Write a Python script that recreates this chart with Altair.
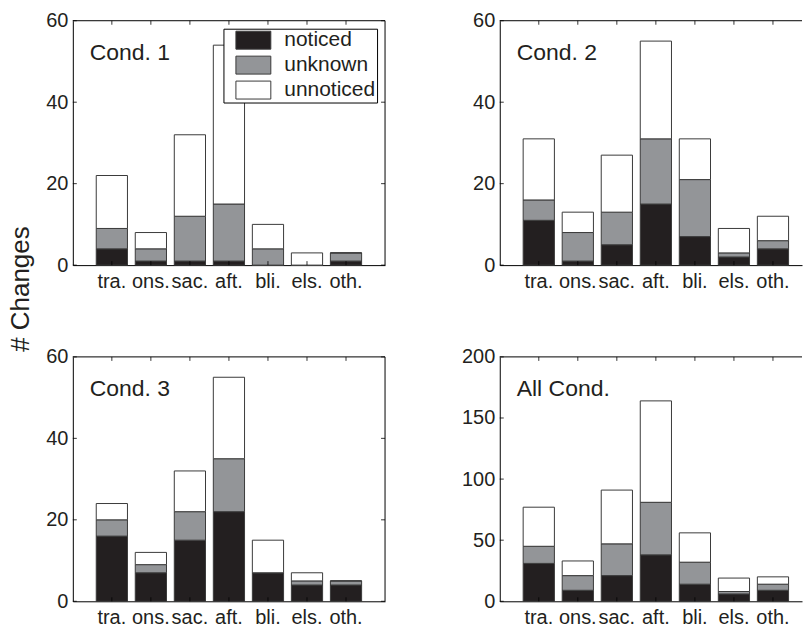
import altair as alt
import pandas as pd

categories = ["tra.", "ons.", "sac.", "aft.", "bli.", "els.", "oth."]
statuses = ["noticed", "unknown", "unnoticed"]
panel_names = ["Cond. 1", "Cond. 2", "Cond. 3", "All Cond."]

cond1_noticed = [4, 1, 1, 1, 0, 0, 1]
cond1_unknown = [5, 3, 11, 14, 4, 0, 2]
cond1_unnoticed = [13, 4, 20, 39, 6, 3, 0]

cond2_noticed = [11, 1, 5, 15, 7, 2, 4]
cond2_unknown = [5, 7, 8, 16, 14, 1, 2]
cond2_unnoticed = [15, 5, 14, 24, 10, 6, 6]

cond3_noticed = [16, 7, 15, 22, 7, 4, 4]
cond3_unknown = [4, 2, 7, 13, 0, 1, 1]
cond3_unnoticed = [4, 3, 10, 20, 8, 2, 0]

all_noticed = [31, 9, 21, 38, 14, 6, 9]
all_unknown = [14, 12, 26, 43, 18, 2, 5]
all_unnoticed = [32, 12, 44, 83, 24, 11, 6]

yticks_cond = [0, 20, 40, 60]
yticks_all = [0, 50, 100, 150, 200]

FONT = "Liberation Sans"
TXT = "#231f20"
COLORS = ["#231f20", "#939598", "#ffffff"]
H = 245


def make_df(series):
    rows = []
    for k, (st, vals) in enumerate(zip(statuses, series)):
        for c, v in zip(categories, vals):
            rows.append({"cat": c, "status": st, "value": v, "k": k})
    return pd.DataFrame(rows)


def panel(name, series, yticks, width, pad_outer, align, right_border, legend):
    df = make_df(series)
    xscale = alt.Scale(domain=categories, paddingInner=0.2,
                       paddingOuter=pad_outer, align=align)
    yscale = alt.Scale(domain=[yticks[0], yticks[-1]], nice=False, zero=True)
    xenc = alt.X("cat:N", scale=xscale, sort=categories,
                 axis=alt.Axis(title=None, labelAngle=0, ticks=False,
                               domainColor="black", labelFontSize=20,
                               labelPadding=6, labelColor=TXT, labelFont=FONT))
    bars = alt.Chart(df).mark_bar(stroke="#3a3a3a", strokeWidth=1).encode(
        x=xenc,
        y=alt.Y("value:Q", stack="zero", scale=yscale,
                axis=alt.Axis(values=yticks, title=None, ticks=False, grid=False,
                              domainColor="black", labelFontSize=20,
                              labelPadding=5, labelColor=TXT, labelFont=FONT)),
        color=alt.Color("status:N", scale=alt.Scale(domain=statuses, range=COLORS),
                        legend=legend),
        order=alt.Order("k:Q", sort="ascending"),
    )
    tdf = pd.DataFrame({"v": yticks})
    cdf = pd.DataFrame({"cat": categories})
    one = pd.DataFrame({"t": [name]})
    left_t = alt.Chart(tdf).mark_rule(color="black", strokeWidth=0.8).encode(
        y=alt.Y("v:Q", scale=yscale), x=alt.value(0), x2=alt.value(4))
    top_t = alt.Chart(cdf).mark_rule(color="black", strokeWidth=0.8).encode(
        x=alt.X("cat:N", scale=xscale, sort=categories), y=alt.value(0), y2=alt.value(4))
    bot_t = alt.Chart(cdf).mark_rule(color="black", strokeWidth=0.8).encode(
        x=alt.X("cat:N", scale=xscale, sort=categories), y=alt.value(H - 4), y2=alt.value(H))
    top_b = alt.Chart(one).mark_rule(color="black", strokeWidth=1).encode(
        x=alt.value(0), x2=alt.value(width), y=alt.value(0))
    label = alt.Chart(one).mark_text(align="left", baseline="middle", fontSize=23,
                                     font=FONT, color=TXT).encode(
        text="t:N", x=alt.value(17), y=alt.value(32))
    layers = [bars, left_t, top_t, bot_t, top_b, label]
    if right_border:
        right_t = alt.Chart(tdf).mark_rule(color="black", strokeWidth=0.8).encode(
            y=alt.Y("v:Q", scale=yscale), x=alt.value(width - 4), x2=alt.value(width))
        right_b = alt.Chart(one).mark_rule(color="black", strokeWidth=1).encode(
            x=alt.value(width), y=alt.value(0), y2=alt.value(H))
        layers += [right_t, right_b]
    return layers


legend1 = alt.Legend(title=None, orient="none", legendX=151, legendY=8,
                     symbolType="M-1.944,-1L1.944,-1L1.944,1L-1.944,1Z",
                     symbolSize=324, symbolStrokeColor="#3a3a3a",
                     symbolStrokeWidth=1, labelFontSize=21, labelFont=FONT,
                     labelColor=TXT, labelOffset=20.5, symbolOffset=18.5,
                     padding=1, rowPadding=2, strokeColor="black",
                     fillColor="white")

WL, WR = 313, 303
p1_layers = panel(panel_names[0], [cond1_noticed, cond1_unknown, cond1_unnoticed],
                  yticks_cond, WL, 0.6, 0.5, True, legend1)
ytitle = alt.Chart(pd.DataFrame({"t": ["# Changes"]})).mark_text(
    angle=270, align="center", baseline="middle", fontSize=26, font=FONT,
    color=TXT).encode(text="t:N", x=alt.value(-52), y=alt.value(269))
p1 = alt.layer(*p1_layers, ytitle).properties(width=WL, height=H)
p2 = alt.layer(*panel(panel_names[1], [cond2_noticed, cond2_unknown, cond2_unnoticed],
                      yticks_cond, WR, 0.472, 0.6355, False, None)).properties(width=WR, height=H)
p3 = alt.layer(*panel(panel_names[2], [cond3_noticed, cond3_unknown, cond3_unnoticed],
                      yticks_cond, WL, 0.6, 0.5, True, None)).properties(width=WL, height=H)
p4 = alt.layer(*panel(panel_names[3], [all_noticed, all_unknown, all_unnoticed],
                      yticks_all, WR, 0.472, 0.6355, False, None)).properties(width=WR, height=H)

res = dict(color="independent", x="independent", y="independent")
chart = alt.concat(p1, p2, p3, p4, columns=2, bounds="flush",
                   spacing=alt.RowColnumber(row=92, column=115)).resolve_scale(**res).properties(
    padding={"left": 8, "top": 10, "right": 0, "bottom": 0},
    background="white",
).configure_view(strokeWidth=0)

chart.save("out.html", embed_options={"renderer": "svg", "actions": False})
